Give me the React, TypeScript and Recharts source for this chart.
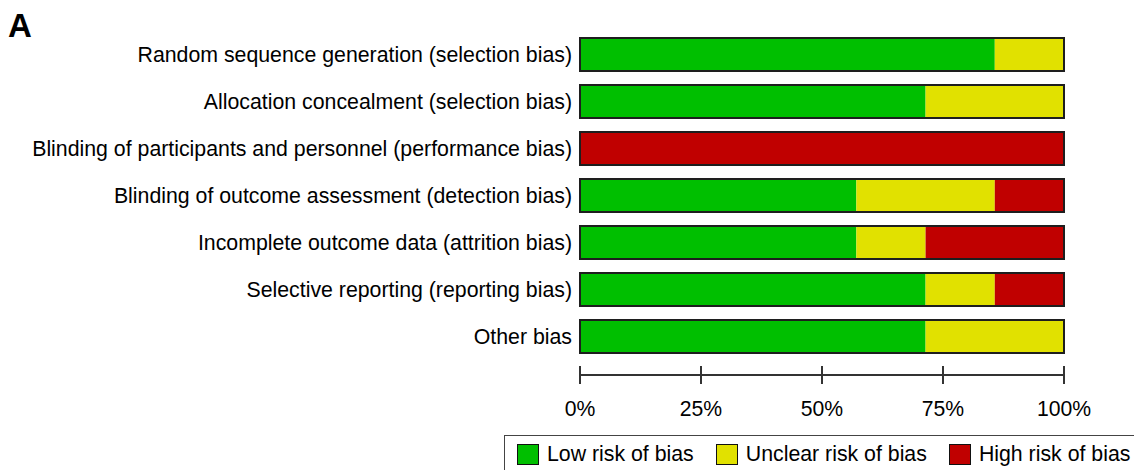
import React from 'react';
import { BarChart, Bar, XAxis, YAxis } from 'recharts';

const categories = [
  'Random sequence generation (selection bias)',
  'Allocation concealment (selection bias)',
  'Blinding of participants and personnel (performance bias)',
  'Blinding of outcome assessment (detection bias)',
  'Incomplete outcome data (attrition bias)',
  'Selective reporting (reporting bias)',
  'Other bias',
];
const lowRisk = [85.7, 71.4, 0, 57.1, 57.1, 71.4, 71.4];
const unclearRisk = [14.3, 28.6, 0, 28.6, 14.3, 14.3, 28.6];
const highRisk = [0, 0, 100, 14.3, 28.6, 14.3, 0];
const xTicks = [0, 25, 50, 75, 100];
const legendLabels = ['Low risk of bias', 'Unclear risk of bias', 'High risk of bias'];
const colors = ['#00bf00', '#e1e100', '#c00000'];

const data = categories.map((name, i) => ({
  name,
  low: lowRisk[i],
  unclear: unclearRisk[i],
  high: highRisk[i],
}));

const FONT = '"Liberation Sans", Arial, sans-serif';

const XTick = (props: any) => {
  const { x, y, payload } = props;
  return (
    <g>
      <line x1={x} x2={x} y1={y - 9} y2={y + 9} stroke="#333" strokeWidth={2} />
      <text x={x} y={y + 41} textAnchor="middle" fontSize={21.2} fontFamily={FONT} fill="#000">
        {payload.value}%
      </text>
    </g>
  );
};

const YTick = (props: any) => {
  const { x, y, payload } = props;
  return (
    <text x={x} y={y} dy="0.36em" textAnchor="end" fontSize={21.3} fontFamily={FONT} fill="#000">
      {payload.value}
    </text>
  );
};

const HighShape = (props: any) => {
  const { x, y, width, height, fill, background } = props;
  return (
    <g>
      {width > 0 && <rect x={x} y={y} width={width} height={height} fill={fill} />}
      {background && (
        <rect
          x={background.x}
          y={background.y}
          width={background.width}
          height={background.height}
          fill="none"
          stroke="#1e1e1e"
          strokeWidth={2}
        />
      )}
    </g>
  );
};

export default function App() {
  return (
    <div style={{ position: 'fixed', left: 0, top: 0, width: 1134, height: 470, overflow: 'hidden', background: '#fff' }}>
      <div style={{ position: 'absolute', left: 8, top: 9, fontFamily: FONT, fontWeight: 'bold', fontSize: 33, lineHeight: '33px', color: '#000' }}>A</div>
      <BarChart
        width={1134}
        height={470}
        data={data}
        layout="vertical"
        margin={{ top: 31, right: 70, bottom: 0, left: 0 }}
        barSize={33}
      >
        <XAxis
          type="number"
          domain={[0, 100]}
          ticks={xTicks}
          interval={0}
          tickLine={false}
          tickSize={0}
          tickMargin={0}
          tick={<XTick />}
          axisLine={{ stroke: '#333', strokeWidth: 2 }}
          height={95}
        />
        <YAxis
          type="category"
          dataKey="name"
          width={580}
          axisLine={false}
          tickLine={false}
          tick={<YTick />}
          interval={0}
          padding={{ top: 0, bottom: 15 }}
        />
        <Bar dataKey="low" stackId="a" fill={colors[0]} isAnimationActive={false} />
        <Bar dataKey="unclear" stackId="a" fill={colors[1]} isAnimationActive={false} />
        <Bar dataKey="high" stackId="a" fill={colors[2]} isAnimationActive={false} shape={<HighShape />} />
      </BarChart>
      <div
        style={{
          position: 'absolute',
          left: 504,
          top: 435,
          width: 660,
          height: 60,
          border: '1px solid #444',
          boxSizing: 'border-box',
          fontFamily: FONT,
          fontSize: 21.3,
          color: '#000',
          whiteSpace: 'nowrap',
        }}
      >
        <div style={{ display: 'flex', alignItems: 'flex-start', position: 'absolute', left: 12, top: 8, whiteSpace: 'nowrap' }}>
          {legendLabels.map((label, i) => (
            <div key={label} style={{ display: 'flex', alignItems: 'flex-start', marginRight: i < 2 ? 22 : 0, flexShrink: 0 }}>
              <div style={{ width: 22, height: 21, boxSizing: 'border-box', background: colors[i], border: '1px solid #111', marginRight: 8, flexShrink: 0 }} />
              <span style={{ lineHeight: '21px', display: 'block' }}>{label}</span>
            </div>
          ))}
        </div>
      </div>
    </div>
  );
}
